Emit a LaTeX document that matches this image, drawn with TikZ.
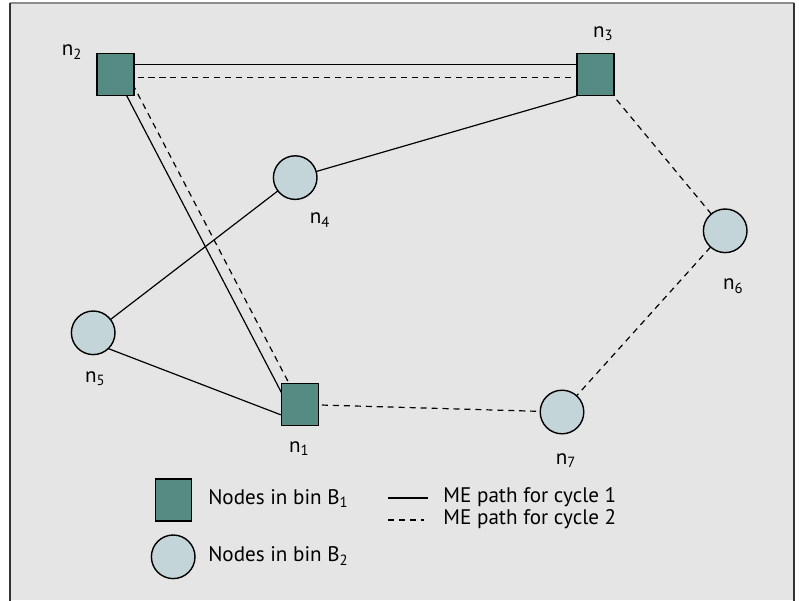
\documentclass[tikz,border=0pt]{standalone}
\usepackage{fontspec}
\setmainfont{PT Sans}
\usetikzlibrary{calc}
\pgfdeclarelayer{backdrop}
\pgfdeclarelayer{links}
\pgfsetlayers{backdrop,links,main}
\definecolor{binone}{HTML}{558B82}
\definecolor{bintwo}{HTML}{C4D5D9}
\definecolor{panel}{HTML}{E5E5E5}
\tikzset{
  binsq/.style={draw=black, line width=1pt, fill=binone, minimum width=0.925cm, minimum height=1.05cm, inner sep=0pt},
  bincirc/.style={draw=black, line width=1pt, fill=bintwo, circle, minimum size=1.09cm, inner sep=0pt},
  cycleone/.style={line width=0.85pt},
  cycletwo/.style={line width=0.85pt, dash pattern=on 4.3pt off 3.5pt},
  lbl/.style={font=\fontsize{15}{18}\selectfont, inner sep=0pt},
}
\begin{document}
\begin{tikzpicture}
  \useasboundingbox (0,0) rectangle (20.075,15);
  \begin{pgfonlayer}{backdrop}
    \fill[panel] (0.25,0) rectangle (19.85,14.925);
    \draw[black!45, line width=1.2pt] (0.25,14.925) -- (19.85,14.925);
    \draw[black!80, line width=1.2pt] (0.25,-0.1) -- (0.25,14.925) (19.85,14.925) -- (19.85,-0.1);
  \end{pgfonlayer}

  % bin B1
  \node[binsq] (n1) at (7.5,4.89) {};
  \node[binsq] (n2) at (2.89,13.14) {};
  \node[binsq] (n3) at (14.89,13.14) {};
  % bin B2
  \node[bincirc] (n4) at (7.38,10.56) {};
  \node[bincirc] (n5) at (2.33,6.68) {};
  \node[bincirc] (n6) at (18.13,9.23) {};
  \node[bincirc] (n7) at (14.05,4.7) {};

  \node[lbl] (l1) at (7.48,3.78) {n\textsubscript{1}};
  \node[lbl] (l2) at (1.8,13.7) {n\textsubscript{2}};
  \node[lbl] (l3) at (15.08,14.15) {n\textsubscript{3}};
  \node[lbl] (l4) at (8.0,9.5) {n\textsubscript{4}};
  \node[lbl] (l5) at (2.38,5.53) {n\textsubscript{5}};
  \node[lbl] (l6) at (18.33,7.85) {n\textsubscript{6}};
  \node[lbl] (l7) at (14.15,3.48) {n\textsubscript{7}};

  \begin{pgfonlayer}{links}
    % cycle 1
    \draw[cycleone] ($(n2)+(0,0.24)$) -- ($(n3)+(0,0.24)$);
    \draw[cycleone] (n2.center) -- ($(n1)+(-0.31,0)$);
    \draw[cycleone] (n3.south west) -- (n4.center);
    \draw[cycleone] (n4.center) -- (n5.center);
    \draw[cycleone] ($(n5)+(0,-0.25)$) -- ($(n1.west)+(0,-0.26)$);
    % cycle 2
    \draw[cycletwo] ($(n2)+(0,-0.07)$) -- ($(n3)+(0,-0.07)$);
    \draw[cycletwo] ($(n2)+(0.3,0)$) -- (n1.center);
    \draw[cycletwo] (n3.center) -- (n6.center);
    \draw[cycletwo] (n6.center) -- (n7.center);
    \draw[cycletwo] (n1.center) -- (n7.center);
  \end{pgfonlayer}

  % legend
  \node[binsq, minimum width=0.9cm] (k1) at (4.33,2.5) {};
  \node[bincirc] (k2) at (4.33,1.08) {};
  \node[lbl, anchor=base west] (t1) at (5.2,2.4) {Nodes in bin B\textsubscript{1}};
  \node[lbl, anchor=base west] (t2) at (5.2,0.96) {Nodes in bin B\textsubscript{2}};
  \coordinate (s1) at (9.7,2.55);
  \coordinate (s2) at (9.7,2.0);
  \draw[cycleone] (s1) -- ++(1.0,0);
  \draw[cycletwo] (s2) -- ++(0.9,0);
  \node[lbl, anchor=base west] (t3) at (11.08,2.43) {ME path for cycle 1};
  \node[lbl, anchor=base west] (t4) at (11.08,1.9) {ME path for cycle 2};
\end{tikzpicture}
\end{document}
